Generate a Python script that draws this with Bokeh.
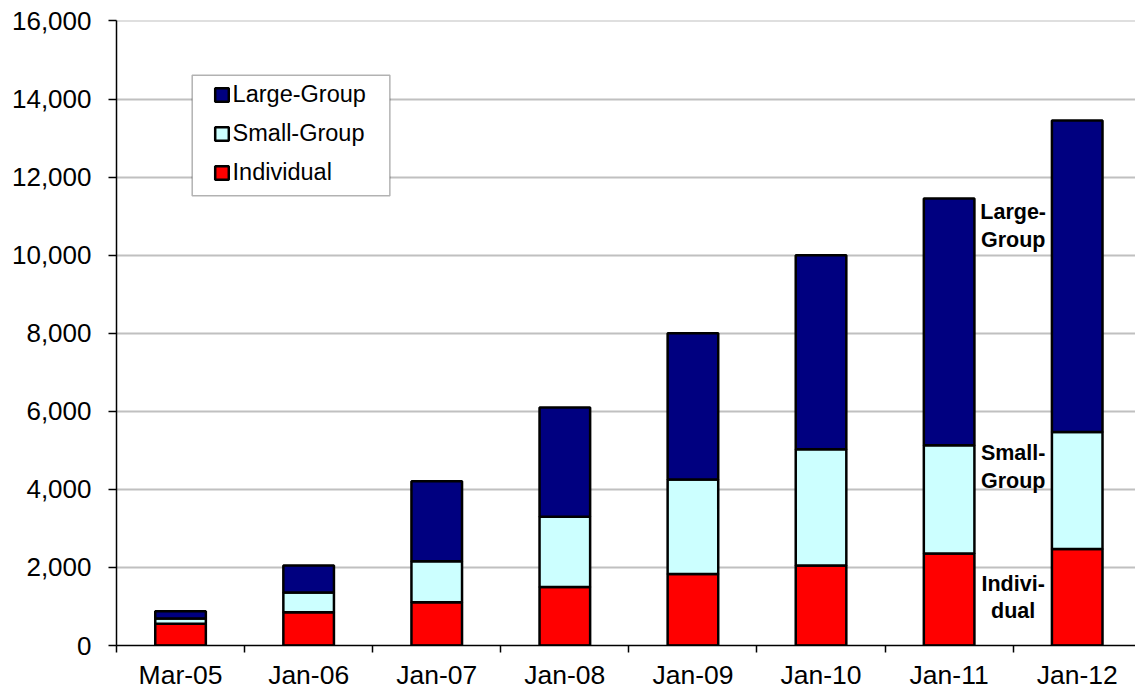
from bokeh.plotting import figure
from bokeh.models import (ColumnDataSource, Range1d, FixedTicker, SingleIntervalTicker,
                          NumeralTickFormatter, Legend, LegendItem, BoxAnnotation)
from bokeh.core.properties import value
from bokeh.embed import file_html
from bokeh.resources import INLINE

# Enrollment by market segment
periods = ["Mar-05", "Jan-06", "Jan-07", "Jan-08", "Jan-09", "Jan-10", "Jan-11", "Jan-12"]
individual = [560, 850, 1110, 1500, 1830, 2050, 2360, 2470]
small_group = [130, 510, 1050, 1800, 2420, 2980, 2770, 3000]
large_group = [190, 690, 2050, 2800, 3750, 4970, 6320, 7980]

series_names = ["Individual", "Small-Group", "Large-Group"]
series_colors = ["#FF0000", "#CCFFFF", "#000080"]
segment_labels = ["Indivi-\ndual", "Small-\nGroup", "Large-\nGroup"]

y_ticks_step = 2000
y_max = 16000

FONT = "Liberation Sans"

centers = [i + 0.5 for i in range(len(periods))]
source = ColumnDataSource(dict(x=centers, individual=individual,
                               small=small_group, large=large_group))

p = figure(width=1135, height=692, output_backend="svg", toolbar_location=None,
           x_range=Range1d(0, 7.955), y_range=Range1d(0, y_max + 12),
           min_border_left=116, min_border_right=0, min_border_top=20,
           min_border_bottom=46)
p.outline_line_color = None
p.background_fill_color = "white"
p.border_fill_color = "white"

# gridlines
p.xgrid.visible = False
p.ygrid.grid_line_color = "#c0c0c0"
p.ygrid.grid_line_width = 2

# y axis
p.yaxis.ticker = SingleIntervalTicker(interval=y_ticks_step, num_minor_ticks=0)
p.yaxis.formatter = NumeralTickFormatter(format="0,0")
p.yaxis.axis_line_color = "black"
p.yaxis.axis_line_width = 1.5
p.yaxis.major_tick_line_color = "black"
p.yaxis.major_tick_line_width = 1.5
p.yaxis.major_tick_out = 8
p.yaxis.major_tick_in = 0
p.yaxis.minor_tick_line_color = None
p.yaxis.major_label_standoff = 17
p.yaxis.major_label_text_font = FONT
p.yaxis.major_label_text_font_size = "26px"
p.yaxis.major_label_text_color = "black"

# x axis: labels at category centres, tick marks at category boundaries
p.xaxis.ticker = FixedTicker(ticks=centers, minor_ticks=list(range(len(periods) + 1)))
p.xaxis.major_label_overrides = {c: lab for c, lab in zip(centers, periods)}
p.xaxis.axis_line_color = "black"
p.xaxis.axis_line_width = 1.5
p.xaxis.major_tick_line_color = None
p.xaxis.minor_tick_line_color = "black"
p.xaxis.minor_tick_line_width = 1.5
p.xaxis.minor_tick_out = 7
p.xaxis.minor_tick_in = 0
p.xaxis.major_tick_out = 7
p.xaxis.major_tick_in = 0
p.xaxis.major_label_standoff = 7
p.xaxis.major_label_text_font = FONT
p.xaxis.major_label_text_font_size = "26.5px"
p.xaxis.major_label_text_color = "black"

# stacked bars
bars = p.vbar_stack(["individual", "small", "large"], x="x", width=0.395,
                    color=series_colors, line_color="black", line_width=2.5,
                    source=source)

# segment labels beside the last bars
label_x = [7.0, 7.0, 7.0]
label_y = [1232, 4567, 10753]
p.text(x=label_x, y=label_y, text=segment_labels, text_font=value(FONT),
       text_font_style="bold", text_font_size="21.5px", text_align="center",
       text_baseline="middle", text_color="black", text_line_height=1.15)

# legend frame
frame_box = BoxAnnotation(left=0.591, right=2.134, top=14612, bottom=11520,
                          fill_color="white", fill_alpha=1.0,
                          line_color="black", line_width=1.5, level="annotation")
p.add_layout(frame_box)

legend = Legend(items=[LegendItem(label=series_names[i], renderers=[bars[i]])
                       for i in (2, 1, 0)],
                location=(96.6, 459), padding=0, margin=0, spacing=12,
                glyph_width=17, glyph_height=17, label_height=27, label_standoff=3,
                label_text_font=FONT, label_text_font_size="23.5px",
                label_text_color="black", border_line_color=None,
                background_fill_alpha=0)
p.add_layout(legend, "center")

open("out.html", "w").write(file_html(p, INLINE))
